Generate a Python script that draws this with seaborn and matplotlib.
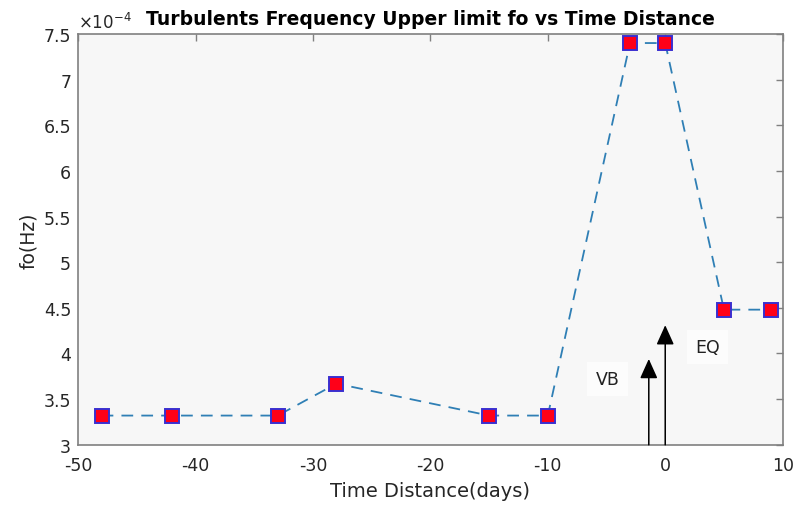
import matplotlib
matplotlib.use("Agg")
import matplotlib.pyplot as plt
import matplotlib.ticker as mticker
import seaborn as sns
import pandas as pd

# Data (fo in Hz)
days = [-48, -42, -33, -28, -15, -10, -3, 0, 5, 9]
fo_hz = [3.32e-4, 3.32e-4, 3.32e-4, 3.67e-4, 3.32e-4, 3.32e-4, 7.40e-4, 7.40e-4, 4.48e-4, 4.48e-4]
scale = 1e-4
x_ticks = [-50, -40, -30, -20, -10, 0, 10]
y_ticks = [3, 3.5, 4, 4.5, 5, 5.5, 6, 6.5, 7, 7.5]

# Event markers (arrows)
event_labels = ["VB", "EQ"]
event_x = [-1.4, 0]
event_top = [3.94, 4.31]
label_x = [-4.9, 3.6]
label_y = [3.72, 4.07]

sns.set_theme(style="white")
plt.rcParams['font.family'] = ['DejaVu Sans']
plt.rcParams['axes.unicode_minus'] = False

df = pd.DataFrame({"days": days, "fo": [v / scale for v in fo_hz]})

fig = plt.figure(figsize=(7.97, 5.06), dpi=100)
ax = fig.add_axes([0.098, 0.119, 0.884, 0.812])
ax.set_facecolor('#f7f7f7')

sns.lineplot(data=df, x="days", y="fo", ax=ax, color='#2f7fb5', linestyle=(0, (6.5, 4.5)),
             linewidth=1.3, marker='s', markersize=10, markerfacecolor='#ff0018',
             markeredgecolor='#3a2fd0', markeredgewidth=1.4)

for lab, ex, et, lx, ly in zip(event_labels, event_x, event_top, label_x, label_y):
    ax.annotate('', xy=(ex, et), xytext=(ex, 3.0),
                arrowprops=dict(arrowstyle='-|>,head_length=1.0,head_width=0.45',
                                color='black', lw=1.1, shrinkA=0, shrinkB=0))
    ax.text(lx, ly, lab, ha='center', va='center', fontsize=12.5, color='#222222',
            bbox=dict(facecolor='#fcfcfc', edgecolor='none', pad=6))

ax.set_xlim(-50, 10)
ax.set_ylim(3, 7.5)
ax.set_xticks(x_ticks)
ax.set_yticks(y_ticks)
ax.yaxis.set_major_formatter(mticker.FormatStrFormatter('%g'))
ax.tick_params(direction='in', top=True, right=True, length=5, width=1,
               colors='#808080', labelcolor='#262626', labelsize=12.5)
ax.tick_params(axis='x', pad=8)
ax.tick_params(axis='y', pad=5)
for s in ax.spines.values():
    s.set_color('#808080')
    s.set_linewidth(1.2)

ax.set_xlabel('Time Distance(days)', fontsize=14, color='#262626', labelpad=5)
ax.set_ylabel('fo(Hz)', fontsize=13.5, color='#262626', labelpad=4)
ax.set_title('Turbulents Frequency Upper limit fo vs Time Distance', fontsize=13.5,
             fontweight='bold', color='black', pad=7)
ax.text(0.0, 1.005, r'$\times10^{-4}$', transform=ax.transAxes, ha='left', va='bottom',
        fontsize=12, color='#262626')

fig.savefig('out.png', dpi=100, facecolor='white')
